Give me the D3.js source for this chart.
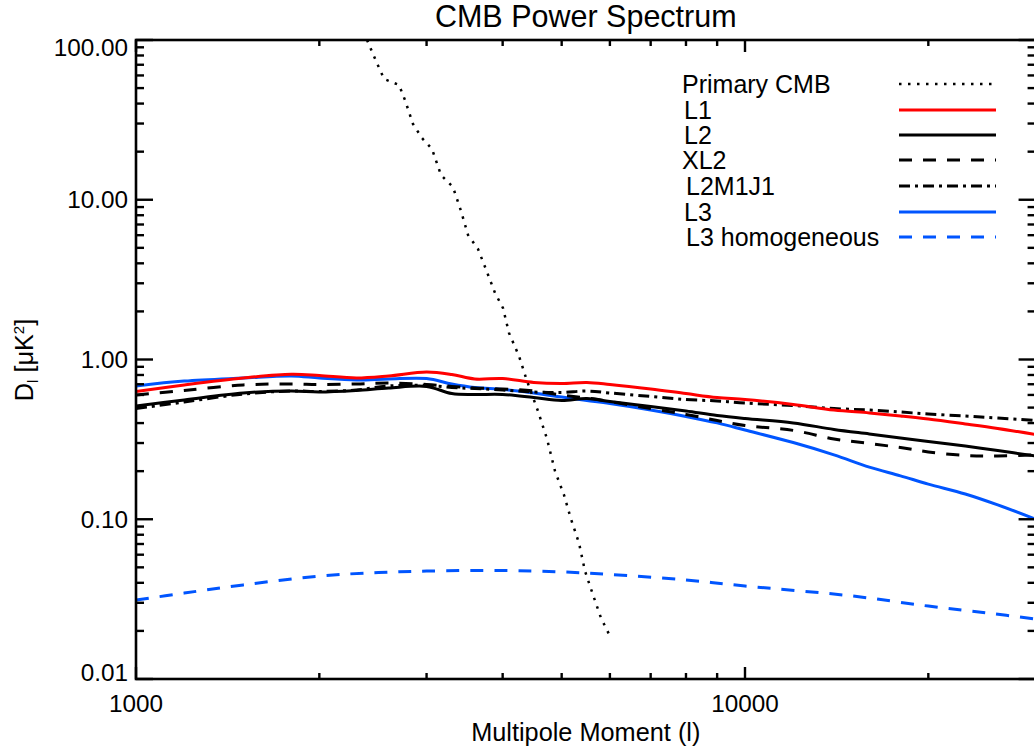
<!DOCTYPE html>
<html>
<head>
<meta charset="utf-8">
<script src="https://cdn.jsdelivr.net/npm/d3@7"></script>
<style>
  html, body { margin: 0; padding: 0; background: #fff; }
  svg { display: block; }
  text { font-family: "Liberation Sans", Arial, Helvetica, sans-serif; fill: #000; }
</style>
</head>
<body>
<svg id="chart" width="1034" height="750"></svg>
<script>
// ---------------- DATA ----------------
const lSamples = [1000,1200,1500,1800,2000,2300,2600,3000,3300,3600,4000,4500,5000,5500,6000,7000,8000,9000,10000,12000,14000,16000,18000,20000,23000,26000,30000];
const L1     = [0.631,0.693,0.766,0.808,0.794,0.766,0.789,0.835,0.806,0.755,0.760,0.718,0.708,0.718,0.698,0.654,0.612,0.578,0.562,0.523,0.483,0.463,0.443,0.424,0.395,0.370,0.339];
const L2     = [0.512,0.558,0.617,0.635,0.626,0.640,0.663,0.678,0.612,0.604,0.604,0.578,0.554,0.570,0.546,0.508,0.476,0.446,0.427,0.401,0.365,0.342,0.323,0.307,0.287,0.269,0.249];
const XL2    = [0.599,0.640,0.693,0.703,0.698,0.703,0.713,0.698,0.678,0.663,0.654,0.635,0.599,0.574,0.546,0.493,0.453,0.415,0.386,0.360,0.318,0.298,0.281,0.264,0.251,0.249,0.253];
const L2M1J1 = [0.493,0.542,0.608,0.635,0.631,0.644,0.683,0.688,0.668,0.658,0.644,0.626,0.622,0.635,0.617,0.587,0.562,0.550,0.534,0.515,0.493,0.483,0.469,0.456,0.443,0.430,0.415];
const L3     = [0.683,0.733,0.766,0.789,0.766,0.744,0.755,0.760,0.703,0.668,0.649,0.617,0.582,0.554,0.530,0.483,0.440,0.401,0.362,0.302,0.253,0.212,0.187,0.166,0.144,0.123,0.100];

const lHom = [1000,1200,1500,2000,2500,3000,4000,5000,6000,8000,10000,15000,20000,25000,30000];
const L3hom = [0.0312,0.0345,0.0388,0.0441,0.0464,0.0474,0.0478,0.0468,0.0451,0.0417,0.0382,0.0331,0.0286,0.0259,0.0237];

const lCmb = [2395,2486,2555,2703,2765,2850,2949,3062,3168,3315,3417,3509,3644,3770,3886,4005,4097,4255,4386,4571,4731,4876,5044,5179,5338,5461,5629,5801,5979];
const primaryCMB = [100,71.8,57.0,52.3,42.1,29.8,24.3,20.8,14.3,12.0,8.51,6.02,4.92,3.53,2.61,2.10,1.466,1.051,0.733,0.476,0.318,0.200,0.142,0.1004,0.0710,0.0474,0.0336,0.0241,0.0191];

const xMajorTicks = [1000, 10000];
const xMinorTicks = [2000,3000,4000,5000,6000,7000,8000,9000,20000,30000];
const xTickLabels = ["1000", "10000"];
const yMajorTicks = [0.01, 0.1, 1, 10, 100];
const yTickLabels = ["0.01", "0.10", "1.00", "10.00", "100.00"];

const seriesNames = ["Primary CMB", "L1", "L2", "XL2", "L2M1J1", "L3", "L3 homogeneous"];

(function () {
// ---------------- LAYOUT ----------------
const pLeft = 136, pTop = 40, pBottom = 679;
const x = d3.scaleLog().domain([1000, 30000]).range([pLeft, pLeft + 609 * Math.log10(30)]);
const y = d3.scaleLog().domain([0.01, 100]).range([pBottom, pTop]);
const pRight = x(30000);

const svg = d3.select("#chart");

const styles = [
  {color: "#000", dash: "2.5,6.5", width: 2.5},
  {color: "#ff0000", dash: null, width: 3},
  {color: "#000", dash: null, width: 3},
  {color: "#000", dash: "13,11", width: 3},
  {color: "#000", dash: "11,5,3,5", width: 3},
  {color: "#0055ff", dash: null, width: 3},
  {color: "#0055ff", dash: "13,11", width: 3}
];

const seriesData = [
  lCmb.map((l,i) => [l, primaryCMB[i]]),
  lSamples.map((l,i) => [l, L1[i]]),
  lSamples.map((l,i) => [l, L2[i]]),
  lSamples.map((l,i) => [l, XL2[i]]),
  lSamples.map((l,i) => [l, L2M1J1[i]]),
  lSamples.map((l,i) => [l, L3[i]]),
  lHom.map((l,i) => [l, L3hom[i]])
];

svg.append("defs").append("clipPath").attr("id", "plotclip")
  .append("rect").attr("x", pLeft).attr("y", pTop).attr("width", pRight - pLeft).attr("height", pBottom - pTop);

const g = svg.append("g").attr("clip-path", "url(#plotclip)");
const drawOrder = [6, 5, 4, 3, 2, 1, 0];
drawOrder.forEach(i => {
  const st = styles[i];
  const line = d3.line()
    .x(d => x(d[0])).y(d => y(d[1]))
    .curve(i === 0 ? d3.curveLinear : d3.curveCatmullRom.alpha(0.5));
  g.append("path")
    .attr("d", line(seriesData[i]))
    .attr("fill", "none")
    .attr("stroke", st.color)
    .attr("stroke-width", st.width)
    .attr("stroke-dasharray", st.dash)
    .attr("stroke-linejoin", "round");
});

// ---------------- AXES ----------------
const axisG = svg.append("g");
axisG.append("rect").attr("x", pLeft).attr("y", pTop).attr("width", pRight - pLeft).attr("height", pBottom - pTop)
  .attr("fill", "none").attr("stroke", "#000").attr("stroke-width", 2.6);

function tick(x1, y1, x2, y2) {
  axisG.append("line").attr("x1", x1).attr("y1", y1).attr("x2", x2).attr("y2", y2)
    .attr("stroke", "#000").attr("stroke-width", 2.4);
}
xMajorTicks.forEach(v => { tick(x(v), pBottom, x(v), pBottom - 12); tick(x(v), pTop, x(v), pTop + 12); });
xMinorTicks.forEach(v => { tick(x(v), pBottom, x(v), pBottom - 6); tick(x(v), pTop, x(v), pTop + 6); });
yMajorTicks.forEach(v => { tick(pLeft, y(v), pLeft + 17, y(v)); tick(pRight, y(v), pRight - 17, y(v)); });
yMajorTicks.slice(0, -1).forEach(v => {
  for (let k = 2; k <= 9; k++) {
    const yy = y(v * k);
    tick(pLeft, yy, pLeft + 8, yy); tick(pRight, yy, pRight - 8, yy);
  }
});

xMajorTicks.forEach((v, i) => {
  axisG.append("text").attr("x", x(v)).attr("y", 712).attr("text-anchor", "middle")
    .attr("font-size", 24.3).text(xTickLabels[i]);
});
yMajorTicks.forEach((v, i) => {
  const cy = Math.max(pTop + 7, Math.min(pBottom - 7, y(v)));
  axisG.append("text").attr("x", 128).attr("y", cy + 8.5).attr("text-anchor", "end")
    .attr("font-size", 24.3).text(yTickLabels[i]);
});

svg.append("text").attr("x", (pLeft + pRight) / 2).attr("y", 27).attr("text-anchor", "middle")
  .attr("font-size", 30.5).text("CMB Power Spectrum");
svg.append("text").attr("x", (pLeft + pRight) / 2).attr("y", 741).attr("text-anchor", "middle")
  .attr("font-size", 25.3).text("Multipole Moment (l)");
const yl = svg.append("text").attr("transform", "translate(33,360) rotate(-90)")
  .attr("text-anchor", "middle").attr("font-size", 25.3);
yl.append("tspan").text("D");
yl.append("tspan").attr("font-size", 15).attr("dy", 5).text("l");
yl.append("tspan").attr("dy", -5).text(" [\u03BCK");
yl.append("tspan").attr("font-size", 15).attr("dy", -9).text("2");
yl.append("tspan").attr("dy", 9).text("]");

// ---------------- LEGEND ----------------
const legY = [84, 110, 135, 160, 186, 212, 237];
const legTx = [682, 684, 684, 682, 686, 684, 686];
seriesNames.forEach((name, i) => {
  const st = styles[i];
  svg.append("text").attr("x", legTx[i]).attr("y", legY[i] + 8.5).attr("font-size", 25).text(name);
  svg.append("line").attr("x1", 899).attr("x2", 996).attr("y1", legY[i]).attr("y2", legY[i])
    .attr("stroke", st.color).attr("stroke-width", st.width).attr("stroke-dasharray", st.dash);
});
})();
</script>
</body>
</html>
